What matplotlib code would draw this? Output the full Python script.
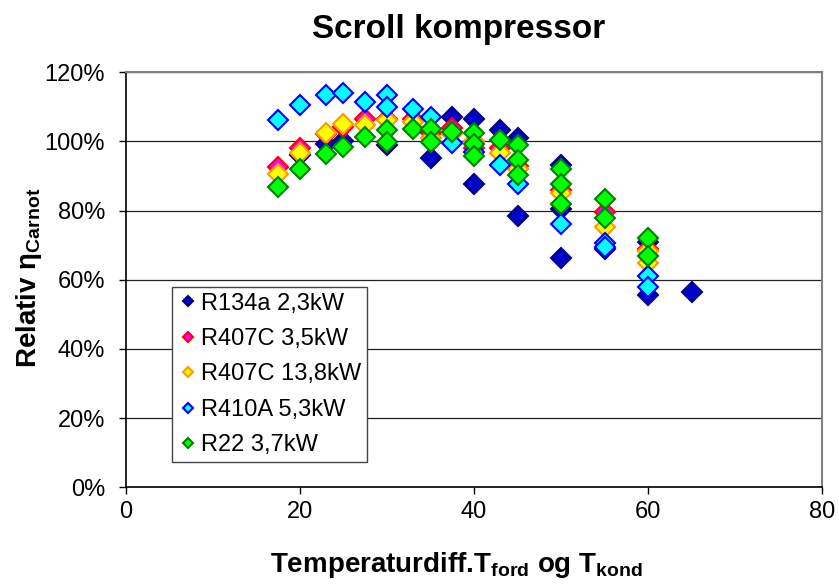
import matplotlib.pyplot as plt
from matplotlib.ticker import PercentFormatter

plt.rcParams['font.family'] = ['Liberation Sans', 'DejaVu Sans']
plt.rcParams['mathtext.fontset'] = 'custom'
plt.rcParams['mathtext.rm'] = 'Liberation Sans'
plt.rcParams['mathtext.bf'] = 'Liberation Sans:bold'

# values (temperature difference, relative efficiency in %)
r134a_x = [20, 23, 25, 30, 35, 37.5, 40, 40, 43, 45, 45, 50, 50, 50, 55, 60, 60, 65]
r134a_y = [96, 99.1, 100.1, 98.9, 95.3, 107.1, 106.4, 87.8, 103.2, 101.1, 78.5,
           93.3, 80.4, 66.3, 69.0, 71.0, 55.5, 56.5]

r407c_35_x = [17.5, 20, 23, 25, 27.5, 30, 33, 35, 37.5, 40, 43, 45, 50, 55, 60]
r407c_35_y = [92.5, 98, 102, 104.2, 106.4, 106.5, 106.6, 102.3, 103.8, 98, 98, 93,
              86, 79.6, 69]

r407c_138_x = [17.5, 20, 23, 25, 27.5, 30, 33, 35, 37.5, 40, 43, 45, 50, 55, 60, 60]
r407c_138_y = [90.7, 96.7, 102.3, 105, 104.7, 106.1, 105.5, 101, 102, 100, 96.5, 92,
               85.2, 75.1, 68.3, 64.7]

r410a_x = [17.5, 20, 23, 25, 27.5, 30, 30, 33, 35, 37.5, 40, 43, 45, 50, 55, 55, 60, 60]
r410a_y = [106.3, 110.5, 113.4, 114.0, 111.4, 113.4, 109.8, 109.5, 107.1, 99.4, 97,
           93.1, 87.8, 76.1, 70.7, 69.6, 61.0, 57.9]

r22_x = [17.5, 20, 23, 25, 27.5, 30, 30, 33, 35, 35, 37.5, 40, 40, 40, 43, 45, 45, 45,
         50, 50, 50, 55, 55, 60, 60]
r22_y = [86.8, 91.9, 96.3, 98.4, 101.3, 103.4, 99.9, 103.7, 103.7, 99.9, 102.6, 102.3,
         99.1, 95.7, 100.3, 98.9, 94.6, 90.2, 92.0, 87.6, 81.8, 83.2, 77.7, 72.2, 66.8]

series = [
    ("R134a 2,3kW", r134a_x, r134a_y, "#0000CC", "#000080"),
    ("R407C 3,5kW", r407c_35_x, r407c_35_y, "#FF00FF", "#FF0000"),
    ("R407C 13,8kW", r407c_138_x, r407c_138_y, "#FFFF00", "#FF9900"),
    ("R410A 5,3kW", r410a_x, r410a_y, "#00FFFF", "#0000FF"),
    ("R22 3,7kW", r22_x, r22_y, "#00FF00", "#008000"),
]

fig = plt.figure(figsize=(8.39, 5.87), dpi=100)
ax = fig.add_axes([0.150, 0.170, 0.830, 0.707])

for label, xs, ys, fc, ec in series:
    ax.plot(xs, ys, linestyle='none', marker='D', markersize=10,
            markerfacecolor=fc, markeredgecolor=ec, markeredgewidth=1.5, label=label)

ax.set_xlim(0, 80)
ax.set_ylim(0, 120)
ax.set_xticks([0, 20, 40, 60, 80])
ax.set_yticks(range(0, 121, 20))
ax.yaxis.set_major_formatter(PercentFormatter(decimals=0))
ax.tick_params(labelsize=17, direction='out', length=5, width=1)
ax.tick_params(axis='x', pad=5)
ax.tick_params(axis='y', pad=10)
ax.grid(axis='y', color='#222222', linewidth=0.9)
ax.set_axisbelow(True)

for side in ['top', 'right']:
    ax.spines[side].set_color('#808080')
    ax.spines[side].set_linewidth(1.5)
for side in ['left', 'bottom']:
    ax.spines[side].set_color('black')
    ax.spines[side].set_linewidth(1.2)

fig.text(0.547, 0.936, "Scroll kompressor", fontsize=24, fontweight='bold',
         ha='center', va='baseline')
ax.set_xlabel(r"Temperaturdiff.T$_\mathbf{ford}$ og T$_\mathbf{kond}$",
              fontsize=20, fontweight='bold')
ax.set_ylabel(r"Relativ η$_\mathbf{Carnot}$", fontsize=20, fontweight='bold')
ax.xaxis.set_label_coords(0.475, -0.152)
ax.yaxis.set_label_coords(-0.118, 0.504)

leg = ax.legend(loc='lower left', bbox_to_anchor=(0.066, 0.060), fontsize=17,
                markerscale=0.55, handletextpad=0.1, handlelength=0.9,
                labelspacing=0.57, borderpad=0.25, borderaxespad=0,
                fancybox=False, framealpha=1, edgecolor='#444444')
leg.get_frame().set_linewidth(1.0)

fig.savefig("out.png", dpi=100)
